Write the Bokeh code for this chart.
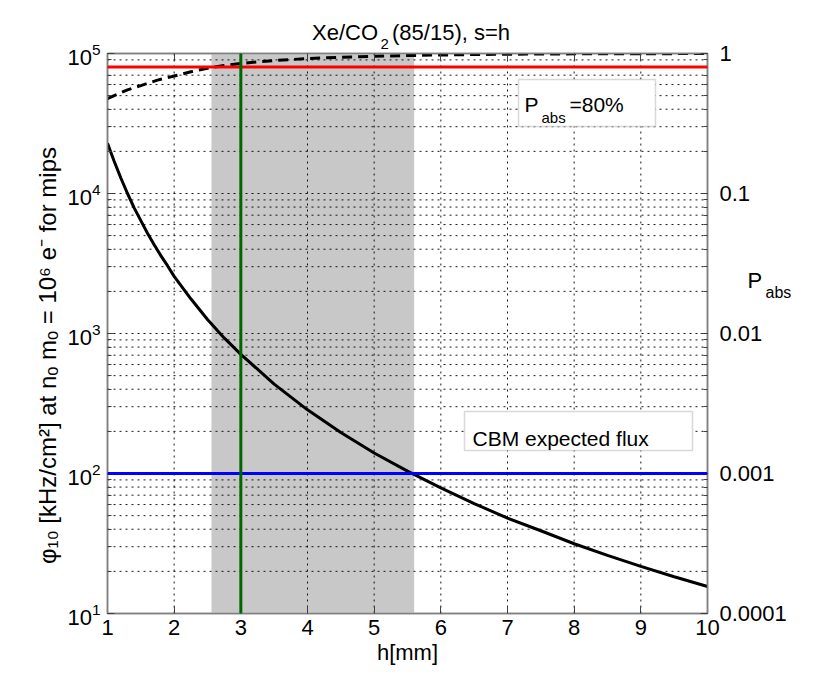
import math
from bokeh.plotting import figure
from bokeh.models import (LogAxis, LinearAxis, Range1d, LogScale, Span, BoxAnnotation,
                          Label, LogTicker, CustomJSTickFormatter)
from bokeh.embed import file_html
from bokeh.resources import INLINE

# ---- data ----
h_mm = [1.0, 1.1, 1.2, 1.3, 1.4, 1.5, 1.6, 1.7, 1.8, 1.9, 2.0, 2.25, 2.5, 2.75, 3.0, 3.5,
        4.0, 4.5, 5.0, 5.5, 6.0, 6.5, 7.0, 7.5, 8.0, 8.5, 9.0, 9.5, 10.0]
phi10 = [22800, 17000, 12900, 10000, 7900, 6400, 5200, 4300, 3600, 3050, 2560, 1770, 1260,
         930, 710, 435, 285, 196, 140, 104, 79, 61, 48, 39, 31.5, 26, 21.7, 18.3, 15.6]
p_abs_h = [1.0, 1.1, 1.2, 1.3, 1.4, 1.5, 1.75, 2.0, 2.25, 2.5, 2.75, 3.0, 3.5, 4.0, 4.5,
           5.0, 5.5, 6.0, 6.5, 7.0, 7.5, 8.0, 8.5, 9.0, 9.5, 10.0]
p_abs = [0.475, 0.50, 0.525, 0.55, 0.57, 0.59, 0.645, 0.69, 0.74, 0.785, 0.82, 0.85, 0.89,
         0.92, 0.94, 0.955, 0.967, 0.976, 0.983, 0.988, 0.991, 0.994, 0.996, 0.997, 0.998, 0.999]
x_ticks = [1, 2, 3, 4, 5, 6, 7, 8, 9, 10]
y_decades = [10, 100, 1000, 10000]
x_lim = (1, 10)
phi_lim = (10, 1e5)
pabs_lim = (1e-4, 1)
h_chosen = 3.0
p_abs_limit = 0.8
cbm_flux = 100
shade_from = 2.56
shade_to = 5.6

FONT = "Liberation Sans"
FS = "22px"
GRAY = "#808080"

# frame geometry (pixels): left 107, top 53, 600 x 560
FL, FT, FW, FH = 107, 53, 600, 560
W, H = 817, 692

def dx(px):
    return x_lim[0] + (px - FL) * (x_lim[1] - x_lim[0]) / FW

def dy(py):
    lo, hi = math.log10(phi_lim[0]), math.log10(phi_lim[1])
    return 10 ** (hi - (py - FT) * (hi - lo) / FH)

p = figure(width=W, height=H, output_backend="svg", toolbar_location=None, title=None,
           x_range=Range1d(*x_lim), y_range=Range1d(*phi_lim), y_axis_type="log",
           min_border_left=FL, min_border_right=W - FL - FW, min_border_top=FT,
           min_border_bottom=H - FT - FH,
           background_fill_color="white", border_fill_color="white")
p.outline_line_color = GRAY
p.outline_line_width = 1.5

p.extra_y_ranges = {"pabs": Range1d(*pabs_lim)}
p.extra_y_scales = {"pabs": LogScale()}

# built-in grids replaced by dotted grid glyphs drawn above the shaded band
p.xgrid.visible = False
p.ygrid.visible = False

# shaded band
p.quad(left=[shade_from], right=[shade_to], bottom=[phi_lim[0]], top=[phi_lim[1]],
       fill_color="#c8c8c8", fill_alpha=1, line_color=None, level="underlay")

# dotted grid (major + minor log lines, integer h lines)
gx = [t for t in x_ticks if x_lim[0] < t < x_lim[1]]
gy = [m * d for d in y_decades for m in range(1, 10) if phi_lim[0] < m * d < phi_lim[1]]
p.segment(x0=gx, x1=gx, y0=[phi_lim[0]] * len(gx), y1=[phi_lim[1]] * len(gx),
          line_color="black", line_width=1, line_dash="2 4", line_alpha=0.9)
p.segment(x0=[x_lim[0]] * len(gy), x1=[x_lim[1]] * len(gy), y0=gy, y1=gy,
          line_color="black", line_width=1, line_dash="2 4", line_alpha=0.9)

# curves
p.line(h_mm, phi10, line_color="black", line_width=3)
p.line(p_abs_h, p_abs, line_color="black", line_width=3, line_dash="10 6", y_range_name="pabs")

p.add_layout(Span(location=p_abs_limit, dimension="width", line_color="#ff0000", line_width=3,
                  y_range_name="pabs"))
p.add_layout(Span(location=cbm_flux, dimension="width", line_color="#0000ff", line_width=3))
p.add_layout(Span(location=h_chosen, dimension="height", line_color="#006600", line_width=3))

# axes styling
def style(ax):
    ax.axis_line_color = GRAY
    ax.axis_line_width = 1.5
    ax.major_tick_in = 7
    ax.major_tick_out = 0
    ax.minor_tick_in = 4
    ax.minor_tick_out = 0
    ax.major_tick_line_color = "#404040"
    ax.minor_tick_line_color = "#404040"
    ax.major_label_text_font = FONT
    ax.major_label_text_font_size = FS
    ax.major_label_text_color = "black"
    ax.axis_label_text_font = FONT
    ax.axis_label_text_font_size = FS
    ax.axis_label_text_font_style = "normal"
    ax.axis_label_text_color = "black"

xa = p.xaxis[0]
style(xa)
xa.ticker = x_ticks
xa.minor_tick_line_color = None
xa.axis_label = "h[mm]"
xa.major_label_standoff = 6
xa.axis_label_standoff = 2

ya = p.yaxis[0]
style(ya)
ya.major_label_standoff = 7

top = LinearAxis(ticker=x_ticks)
style(top)
top.major_label_text_font_size = "1px"
top.major_label_text_color = None
top.major_label_standoff = 0
top.minor_tick_line_color = None
p.add_layout(top, "above")

ra = LogAxis(y_range_name="pabs", ticker=LogTicker(num_minor_ticks=10),
             formatter=CustomJSTickFormatter(code="return tick.toString();"))
style(ra)
ra.major_label_standoff = 12
p.add_layout(ra, "right")

def lab(px, py, t, size=FS, place="center", **kw):
    opts = dict(text_baseline="alphabetic", text_align="left")
    opts.update(kw)
    lb = Label(x=dx(px), y=dy(py), text=t, text_font=FONT, text_font_size=size,
               text_color="black", **opts)
    p.add_layout(lb, place)

# y axis label (rotated, in the left panel)
lab(47, 355, "φ₁₀ [kHz/cm²] at nₒ mₒ = 10⁶ e⁻ for mips", size="24px", place="left",
    angle=math.pi / 2, text_align="center")

# title pieces (kept in the side panels so they are not clipped by the frame)
lab(311.5, 32, "Xe/CO", place="above")
lab(391.5, 32, "(85/15), s=h", place="above")
lab(380, 43, "2", size="15px", place="right")

# right axis label P_abs
lab(747, 280, "P", place="right")
lab(765, 292, "abs", size="16px", place="below")

# P_abs = 80% box
p.add_layout(BoxAnnotation(left=dx(518), right=dx(655), top=dy(79), bottom=dy(126),
                           fill_color="white", fill_alpha=1, line_color=GRAY, line_width=1.5))
lab(524, 104, "P", size="21px")
lab(541, 117, "abs", size="15px")
lab(569, 104, "=80%", size="21px")

# CBM box
p.add_layout(BoxAnnotation(left=dx(464), right=dx(692), top=dy(411), bottom=dy(450),
                           fill_color="white", fill_alpha=1, line_color=GRAY, line_width=1.5))
lab(472, 438, "CBM expected flux", size="21px")

open("out.html", "w").write(file_html(p, INLINE))
